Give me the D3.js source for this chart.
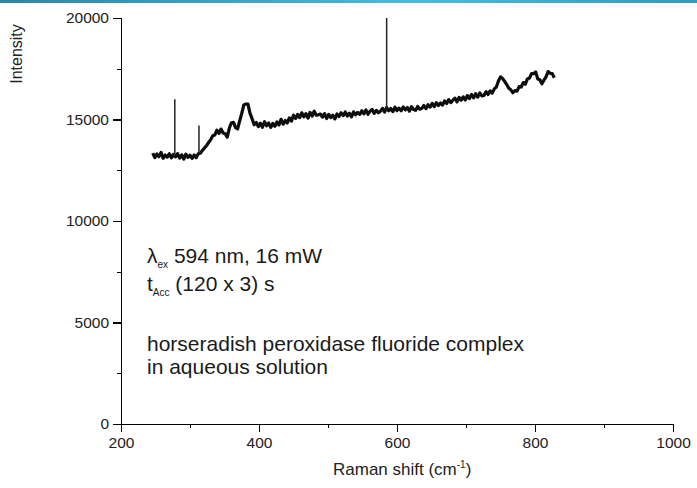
<!DOCTYPE html>
<meta charset="utf-8">
<head>
<style>
body { margin: 0; background: #fff; font-family: "Liberation Sans", Arial, sans-serif; }
.axis path, .axis line { stroke: #000; stroke-width: 1.4px; fill: none; shape-rendering: crispEdges; }
.axis text { font-size: 15.5px; fill: #222; font-family: "Liberation Sans", Arial, sans-serif; }
.spec { fill: none; stroke: #0a0a0a; stroke-width: 3.2px; stroke-linejoin: round; }
.spike { stroke: #222; stroke-width: 1.5px; }
.note { font-size: 21px; fill: #1a1a1a; }
.label { font-size: 16px; fill: #222; }
</style>
<script src="https://d3js.org/d3.v7.min.js"></script>
</head>
<body>
<div id="chart"></div>
<script>

// sampling grid of the spectrum (cm-1)
var shiftStart = 246, shiftStep = 3;

// intensity, one value per grid step
var intensity = [
  13340, 13120, 13300, 13170, 13380, 13090, 13250, 13150, 13310, 13110,
  13280, 13160, 13320, 13100, 13260, 13050, 13290, 13130, 13240, 13080,
  13250, 13120, 13310, 13340, 13480, 13600, 13710, 13870, 14010, 14200,
  14240, 14470, 14310, 14530, 14340, 14300, 14130, 14580, 14840, 14860,
  14600, 14540, 14930, 15300, 15720, 15760, 15760, 15300, 15040, 14740,
  14850, 14650, 14820, 14620, 14890, 14690, 14830, 14610, 14810, 14670,
  14880, 14730, 15010, 14770, 14950, 14830, 15080, 14920, 15210, 15050,
  15250, 15090, 15330, 15130, 15290, 15070, 15350, 15170, 15410, 15210,
  15230, 15270, 15120, 15290, 15050, 15250, 15090, 15210, 15030, 15270,
  15150, 15330, 15190, 15370, 15170, 15310, 15130, 15380, 15230, 15350,
  15250, 15430, 15280, 15470, 15260, 15410, 15490, 15300, 15450, 15330,
  15410, 15550, 15370, 15590, 15430, 15540, 15390, 15610, 15440, 15560,
  15430, 15620, 15470, 15590, 15410, 15630, 15490, 15450, 15640, 15510,
  15550, 15690, 15530, 15730, 15610, 15790, 15630, 15830, 15690, 15810,
  15710, 15910, 15790, 15980, 15830, 15950, 16050, 15870, 16090, 15950,
  16110, 15960, 16180, 16030, 16230, 16070, 16270, 16100, 16310, 16160,
  16190, 16370, 16230, 16410, 16300, 16510, 16600, 16900, 17100, 17020,
  16880, 16720, 16540, 16460, 16320, 16420, 16400, 16620, 16600, 16820,
  16740, 17000, 17040, 17260, 17260, 17340, 17000, 16960, 16760, 16940,
  17100, 17360, 17280, 17260, 17060
];

// narrow spikes (cosmic rays)
var spikeShift = [278, 313, 585];
var spikeBase  = [13200, 13300, 15450];
var spikeTop   = [16000, 14700, 20000];

var xTicks = [200, 400, 600, 800, 1000];
var xMinor = [300, 500, 700, 900];
var yTicks = [0, 5000, 10000, 15000, 20000];
var yMinor = [2500, 7500, 12500, 17500];

var margin = {top: 18, right: 24, bottom: 64, left: 121},
  width = 697 - margin.left - margin.right,
  height = 488 - margin.top - margin.bottom;

var root = d3.select("#chart").append("svg")
  .attr("width", 697)
  .attr("height", 488);

var defs = root.append("defs");

// thin blue band at the very top of the slide
var grad = defs.append("linearGradient")
  .attr("id", "band");
grad.append("stop").attr("offset", "0%").attr("stop-color", "#2a86ad");
grad.append("stop").attr("offset", "60%").attr("stop-color", "#3fc0de");
grad.append("stop").attr("offset", "100%").attr("stop-color", "#2a9cc4");
root.append("rect")
  .attr("x", 0).attr("y", 0)
  .attr("width", 697).attr("height", 3)
  .attr("fill", "url(#band)");

// soften the trace a little, like the scanned original
defs.append("filter").attr("id", "soft")
  .append("feGaussianBlur").attr("stdDeviation", 0.45);

var svg = root.append("g")
  .attr("transform", "translate(" + margin.left + "," + margin.top + ")");

var x = d3.scaleLinear().domain([200, 1000]).range([0, width]);
var y = d3.scaleLinear().domain([0, 20000]).range([height, 0]);

////Axes
svg.append("g")
  .attr("class", "axis")
  .attr("transform", "translate(0," + height + ")")
  .call(d3.axisBottom(x).tickValues(xMinor).tickSize(4).tickFormat(""));
svg.append("g")
  .attr("class", "axis")
  .attr("transform", "translate(0," + height + ")")
  .call(d3.axisBottom(x).tickValues(xTicks).tickSizeInner(8).tickSizeOuter(0).tickPadding(5).tickFormat(d3.format("d")));

svg.append("g")
  .attr("class", "axis")
  .call(d3.axisLeft(y).tickValues(yMinor).tickSize(4).tickFormat(""));
svg.append("g")
  .attr("class", "axis")
  .call(d3.axisLeft(y).tickValues(yTicks).tickSizeInner(8).tickSizeOuter(0).tickPadding(4).tickFormat(d3.format("d")));

////Spectrum
var spectrum = intensity.map(function(v, i) {
  return {shift: shiftStart + i * shiftStep, value: v};
});

var line = d3.line()
  .x(function(d) { return x(d.shift); })
  .y(function(d) { return y(d.value); });

svg.append("path")
  .datum(spectrum)
  .attr("class", "spec")
  .attr("filter", "url(#soft)")
  .attr("d", line);

svg.selectAll(".spike")
  .data(spikeShift)
  .enter()
  .append("line")
    .attr("class", "spike")
    .attr("x1", function(d) { return x(d); })
    .attr("x2", function(d) { return x(d); })
    .attr("y1", function(d, i) { return y(spikeBase[i]); })
    .attr("y2", function(d, i) { return y(spikeTop[i]); });

////Axis titles
root.append("text")
  .attr("class", "label")
  .attr("transform", "translate(22,54) rotate(-90)")
  .attr("text-anchor", "middle")
  .text("Intensity");

var xl = root.append("text")
  .attr("class", "label")
  .attr("x", 333)
  .attr("y", 475)
  .style("font-size", "17px");
xl.append("tspan").text("Raman shift (cm");
xl.append("tspan").attr("dy", -7).style("font-size", "10px").text("-1");
xl.append("tspan").attr("dy", 7).text(")");

////Notes
var n1 = root.append("text").attr("class", "note").attr("x", 147).attr("y", 263);
n1.append("tspan").text("λ");
n1.append("tspan").attr("dy", 5).style("font-size", "10px").text("ex");
n1.append("tspan").attr("dy", -5).text(" 594 nm, 16 mW");

var n2 = root.append("text").attr("class", "note").attr("x", 147).attr("y", 291);
n2.append("tspan").text("t");
n2.append("tspan").attr("dy", 5).style("font-size", "10px").text("Acc");
n2.append("tspan").attr("dy", -5).text(" (120 x 3) s");

root.append("text").attr("class", "note").attr("x", 147).attr("y", 351)
  .text("horseradish peroxidase fluoride complex");
root.append("text").attr("class", "note").attr("x", 147).attr("y", 374)
  .text("in aqueous solution");

</script>
</body>
</html>
